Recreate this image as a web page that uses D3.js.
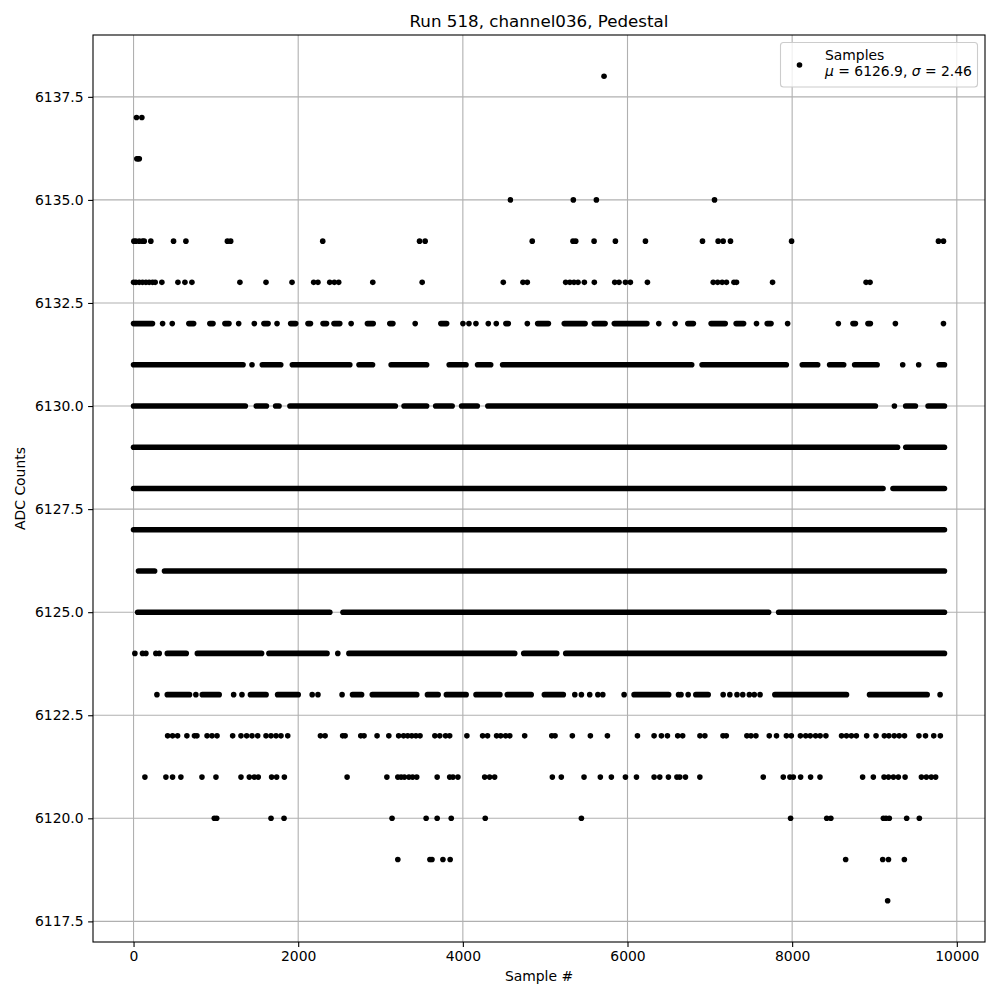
<!DOCTYPE html>
<html><head><meta charset="utf-8">
<script src="https://cdn.jsdelivr.net/npm/d3@7"></script>
<style>body{margin:0;background:#fff}svg{display:block;font-family:"DejaVu Sans",sans-serif}</style>
</head><body><svg id="c" width="1000" height="1000"></svg>
<script>
// ---------- chart text ----------
const title = "Run 518, channel036, Pedestal";
const xLabel = "Sample #";
const yLabel = "ADC Counts";
const xTicks = [0, 2000, 4000, 6000, 8000, 10000];
const yTicks = [6117.5, 6120, 6122.5, 6125, 6127.5, 6130, 6132.5, 6135, 6137.5];
const legendLabel = "Samples";
const legendMu = "6126.9";
const legendSigma = "2.46";
const sampleRange = [0, 9850];
const levelRange = [6118, 6138];

// ---------- data: sample indices at each ADC level ----------
// a number = one sample; [a, b] = an unbroken run of samples from a to b
const s6138 = [5715];
const s6137 = [36, 101];
const s6136 = [40, 55, 70];
const s6135 = [4577, 5342, 5622, 7057];
const s6134 = [4, 28, 69, 109, 130, 210, 486, 636, 1140, 1180, 2298, 3474, 3542, 4843, 5338, 5371, 5594, 5853, 6218, 6911, 7101, 7162, 7251, 7993, 9777, 9838];
const s6133 = [0, 28, 69, 109, 150, 190, 231, 263, 344, 539, 624, 709, 1292, 1609, 1925, 2188, 2240, 2383, 2439, 2492, 2906, 3506, 4491, 4730, 4783, 5249, 5300, 5350, 5399, 5476, 5597, 5845, 5897, 5975, 6035, 6242, 7041, 7095, 7150, 7202, 7293, 7324, 7762, 8898, 8946];
const s6132 = [[0, 230], 353, 470, [672, 730], [927, 965], [1110, 1159], 1277, 1467, [1584, 1634], 1743, [1909, 1970], [2119, 2149], [2302, 2344], [2435, 2505], 2643, [2841, 2911], [3113, 3150], 3421, [3733, 3803], 4001, 4074, 4159, 4309, 4406, [4523, 4552], 4783, [4909, 5039], [5232, 5485], [5597, 5728], [5840, 6235], 6380, 6578, [6733, 6800], [7016, 7187], [7320, 7410], 7567, [7697, 7743], 7945, 8561, [8739, 8768], [8921, 8950], 9254, 9838];
const s6131 = [[0, 1330], 1439, [1564, 1788], [1929, 2627], [2739, 2903], [3129, 3560], [3834, 4038], [4179, 4338], [4483, 6780], [6906, 7929], [8123, 8310], [8455, 8626], [8759, 9032], 9343, 9537, [9785, 9850]];
const s6130 = [[0, 1358], [1491, 1614], [1726, 1767], [1900, 3180], [3286, 3560], [3670, 3870], [3985, 4175], [4304, 9011], 9242, [9379, 9497], [9651, 9850]];
const s6129 = [[0, 9280], [9380, 9850]];
const s6128 = [[0, 9104], [9225, 9850]];
const s6127 = [[0, 9850]];
const s6126 = [[60, 256], [376, 9850]];
const s6125 = [[50, 2384], [2544, 7714], [7836, 9850]];
const s6124 = [16, 109, 150, 271, 312, [410, 640], [775, 1555], [1645, 2350], 2481, [2616, 4630], [4740, 5140], [5250, 9850]];
const s6123 = [284, [410, 680], 757, [835, 1040], 1216, 1317, [1420, 1610], [1750, 2000], 2170, 2240, 2533, [2660, 2770], [2900, 3440], [3570, 3700], [3800, 4040], [4160, 4450], [4540, 4830], [4990, 5220], 5360, 5440, 5541, 5640, 5700, 5959, [6080, 6500], 6620, 6650, 6737, [6830, 6980], 7162, 7243, 7330, 7400, 7480, 7540, 7610, [7790, 8660], [8940, 9640], 9797];
const s6122 = [414, 474, 535, 648, 740, 770, 893, 953, 1014, 1204, 1305, 1374, 1439, 1508, 1609, 1670, 1731, 1791, 1873, 2270, 2327, 2540, 2570, 2760, 2800, 2958, 3101, 3220, 3280, 3330, 3380, 3430, 3480, 3660, 3720, 3790, 3840, 4049, 4240, 4300, 4410, 4460, 4520, 4570, 4751, 5080, 5120, 5330, 5549, 5756, 6121, 6323, 6412, 6485, 6610, 6670, 6880, 6940, 7160, 7200, 7450, 7500, 7560, 7722, 7810, 7930, 7990, 8100, 8165, 8220, 8285, 8340, 8410, 8600, 8660, 8720, 8780, 8905, 9019, 9120, 9175, 9240, 9300, 9365, 9540, 9620, 9720, 9800];
const s6121 = [138, 393, 474, 575, 831, 1001, 1305, 1406, 1467, 1515, 1677, 1738, 1832, 2594, 3077, 3210, 3250, 3290, 3345, 3390, 3440, 3688, 3840, 3880, 3940, 4265, 4325, 4386, 5087, 5196, 5472, 5670, 5804, 5975, 6109, 6323, 6392, 6497, 6600, 6635, 6704, 6879, 7649, 7892, 7973, 8014, 8103, 8224, 8338, 8856, 8986, 9116, 9170, 9230, 9290, 9372, 9570, 9630, 9690, 9743];
const s6120 = [981, 1010, 1670, 1828, 3140, 3554, 3688, 3859, 4272, 5440, 7981, 8420, 8470, 9108, 9140, 9180, 9391, 9545];
const s6119 = [3210, 3600, 3625, 3758, 3846, 8650, 9100, 9170, 9363];
const s6118 = [9160];

const levels = [6118, 6119, 6120, 6121, 6122, 6123, 6124, 6125, 6126, 6127, 6128, 6129, 6130, 6131, 6132, 6133, 6134, 6135, 6136, 6137, 6138];
const samplesByLevel = [s6118, s6119, s6120, s6121, s6122, s6123, s6124, s6125, s6126, s6127, s6128, s6129, s6130, s6131, s6132, s6133, s6134, s6135, s6136, s6137, s6138];

// ---------- layout ----------
const svg = d3.select("#c");
const L = 93, T = 35, R = 985, B = 942;
const xPad = (sampleRange[1] - sampleRange[0]) * 0.05;
const yPad = (levelRange[1] - levelRange[0]) * 0.05;
const x = d3.scaleLinear().domain([sampleRange[0] - xPad, sampleRange[1] + xPad]).range([L, R]);
const y = d3.scaleLinear().domain([levelRange[0] - yPad, levelRange[1] + yPad]).range([B, T]);

const gridC = "#b0b0b0";
// grid
const grid = svg.append("g");
grid.selectAll("line.gx").data(xTicks).join("line")
  .attr("x1", d => x(d)).attr("x2", d => x(d)).attr("y1", T).attr("y2", B)
  .attr("stroke", gridC).attr("stroke-width", 1.1);
grid.selectAll("line.gy").data(yTicks).join("line")
  .attr("y1", d => y(d)).attr("y2", d => y(d)).attr("x1", L).attr("x2", R)
  .attr("stroke", gridC).attr("stroke-width", 1.1);

// points
const R0 = 2.8;
const pts = svg.append("g").attr("fill", "#000").attr("stroke", "#000");
levels.forEach((lv, i) => {
  const arr = samplesByLevel[i];
  const runs = arr.filter(d => Array.isArray(d));
  const singles = arr.filter(d => !Array.isArray(d));
  pts.selectAll(null).data(runs).join("line")
    .attr("x1", d => x(d[0])).attr("x2", d => x(d[1]))
    .attr("y1", y(lv)).attr("y2", y(lv))
    .attr("stroke-width", R0 * 2).attr("stroke-linecap", "round");
  pts.selectAll(null).data(singles).join("circle")
    .attr("cx", d => x(d)).attr("cy", y(lv)).attr("r", R0).attr("stroke", "none");
});

// axes
const xAxis = d3.axisBottom(x).tickValues(xTicks).tickFormat(d3.format("d")).tickSize(4.9).tickPadding(4.5);
const yAxis = d3.axisLeft(y).tickValues(yTicks).tickFormat(d3.format(".1f")).tickSize(4.9).tickPadding(4.5);
const gx = svg.append("g").attr("transform", `translate(0,${B})`).call(xAxis);
const gy = svg.append("g").attr("transform", `translate(${L},0)`).call(yAxis);
[gx, gy].forEach(g => {
  g.select(".domain").remove();
  g.selectAll(".tick line").attr("stroke", "#000").attr("stroke-width", 1.1);
  g.selectAll(".tick text").attr("fill", "#000").style("font-family", "DejaVu Sans").style("font-size", "13.9px");
});

// frame
svg.append("rect").attr("x", L).attr("y", T).attr("width", R - L).attr("height", B - T)
  .attr("fill", "none").attr("stroke", "#000").attr("stroke-width", 1.1);

// labels
svg.append("text").attr("x", (L + R) / 2).attr("y", 27).attr("text-anchor", "middle")
  .style("font-size", "16.7px").text(title);
svg.append("text").attr("x", (L + R) / 2).attr("y", 981).attr("text-anchor", "middle")
  .style("font-size", "13.9px").text(xLabel);
svg.append("text").attr("transform", `translate(25,${(T + B) / 2}) rotate(-90)`).attr("text-anchor", "middle")
  .style("font-size", "13.9px").text(yLabel);

// legend
const lg = svg.append("g");
lg.append("rect").attr("x", 780.5).attr("y", 42.5).attr("width", 197).attr("height", 44.5).attr("rx", 3)
  .attr("fill", "#fff").attr("fill-opacity", 0.8).attr("stroke", "#cccccc").attr("stroke-width", 1.1);
lg.append("circle").attr("cx", 799.5).attr("cy", 65).attr("r", R0).attr("fill", "#000");
lg.append("text").attr("x", 825).attr("y", 59.5).style("font-size", "13.9px").text(legendLabel);
const t2 = lg.append("text").attr("x", 825).attr("y", 76).style("font-size", "13.9px");
t2.append("tspan").style("font-style", "italic").text("μ");
t2.append("tspan").text(` = ${legendMu}, `);
t2.append("tspan").style("font-style", "italic").text("σ");
t2.append("tspan").text(` = ${legendSigma}`);
</script></body></html>
